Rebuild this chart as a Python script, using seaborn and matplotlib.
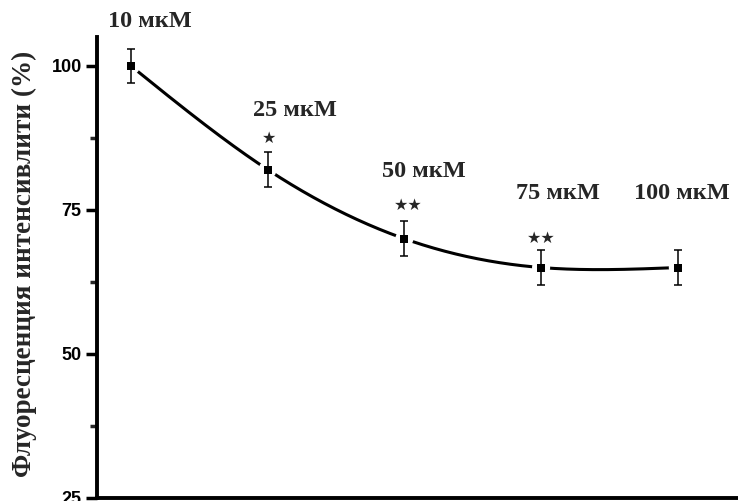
import numpy as np
import pandas as pd
import matplotlib
matplotlib.use("Agg")
import matplotlib.pyplot as plt
from matplotlib.ticker import MultipleLocator
import seaborn as sns

# Concentrations (category labels), mean fluorescence and error
concentrations = ["10 мкМ", "25 мкМ", "50 мкМ", "75 мкМ", "100 мкМ"]
fluorescence = [100, 82, 70, 65, 65]
errors = [3, 3, 3, 3, 3]
significance = ["", "★", "★★", "★★", ""]

# Label placement (data units: category index offset, y value)
label_dx = [0.14, 0.20, 0.14, 0.12, 0.03]
label_y = [107.7, 92.2, 81.7, 77.8, 77.8]
star_dx = [0, 0.01, 0.03, 0.0, 0]
star_y = [0, 87.4, 75.8, 70.1, 0]

y_label = "Флуоресценция интенсивлити (%)"

sns.set_theme(style="ticks")
plt.rcParams["font.family"] = ["Liberation Sans", "DejaVu Sans"]

df = pd.DataFrame({"pos": np.arange(len(concentrations)),
                   "value": fluorescence,
                   "err": errors})


def natural_spline(x, y, n=400):
    """Natural cubic spline through (x, y), evaluated on a dense grid."""
    x = np.asarray(x, float)
    y = np.asarray(y, float)
    k = len(x)
    h = np.diff(x)
    A = np.zeros((k, k))
    b = np.zeros(k)
    A[0, 0] = A[-1, -1] = 1
    for i in range(1, k - 1):
        A[i, i - 1] = h[i - 1]
        A[i, i] = 2 * (h[i - 1] + h[i])
        A[i, i + 1] = h[i]
        b[i] = 3 * ((y[i + 1] - y[i]) / h[i] - (y[i] - y[i - 1]) / h[i - 1])
    c = np.linalg.solve(A, b)
    xs = np.linspace(x[0], x[-1], n)
    ys = np.empty_like(xs)
    for j, xv in enumerate(xs):
        i = min(np.searchsorted(x, xv, side="right") - 1, k - 2)
        bi = (y[i + 1] - y[i]) / h[i] - h[i] * (2 * c[i] + c[i + 1]) / 3
        di = (c[i + 1] - c[i]) / (3 * h[i])
        t = xv - x[i]
        ys[j] = y[i] + bi * t + c[i] * t ** 2 + di * t ** 3
    return xs, ys


fig = plt.figure(figsize=(7.38, 5.01), dpi=100)
ax = fig.add_axes([0.1314, 0.006, 0.8686, 0.920])

xs, ys = natural_spline(df["pos"], df["value"])
sns.lineplot(x=xs, y=ys, ax=ax, color="black", lw=2.2, zorder=1)

# white halo so the line stops short of each marker
ax.scatter(df["pos"], df["value"], s=170, marker="o", color="white",
           edgecolors="none", zorder=3)
ax.errorbar(df["pos"], df["value"], yerr=df["err"], fmt="none",
            ecolor="black", elinewidth=1.1, capsize=3, capthick=1.1,
            zorder=4)
sns.scatterplot(data=df, x="pos", y="value", ax=ax, marker="s", s=36,
                color="black", edgecolor="black", linewidth=0, zorder=5)

for i, name in enumerate(concentrations):
    ax.text(i + label_dx[i], label_y[i], name, ha="center", va="center",
            family="Liberation Serif", fontweight="bold", fontsize=17.5,
            clip_on=False)
    if significance[i]:
        ax.text(i + star_dx[i], star_y[i], significance[i], ha="center",
                va="center", family="DejaVu Sans", fontsize=11.5)

ax.set_xlim(-0.248, 4.44)
ax.set_ylim(25, 105)
ax.set_xticks([])
ax.yaxis.set_major_locator(MultipleLocator(25))
ax.yaxis.set_minor_locator(MultipleLocator(12.5))
ax.tick_params(axis="y", which="major", length=8, width=2.5,
               labelsize=13, pad=3, colors="black")
ax.tick_params(axis="y", which="minor", length=5, width=2.5)
for lbl in ax.get_yticklabels():
    lbl.set_fontweight("bold")
ax.set_xlabel("")
ax.set_ylabel(y_label, family="Liberation Serif", fontweight="bold",
              fontsize=19.5)
ax.yaxis.set_label_coords(-0.094, 0.507)

for side in ("top", "right"):
    ax.spines[side].set_visible(False)
for side in ("left", "bottom"):
    ax.spines[side].set_linewidth(2.8)
    ax.spines[side].set_color("black")

fig.savefig("out.png", dpi=100, facecolor="white")
